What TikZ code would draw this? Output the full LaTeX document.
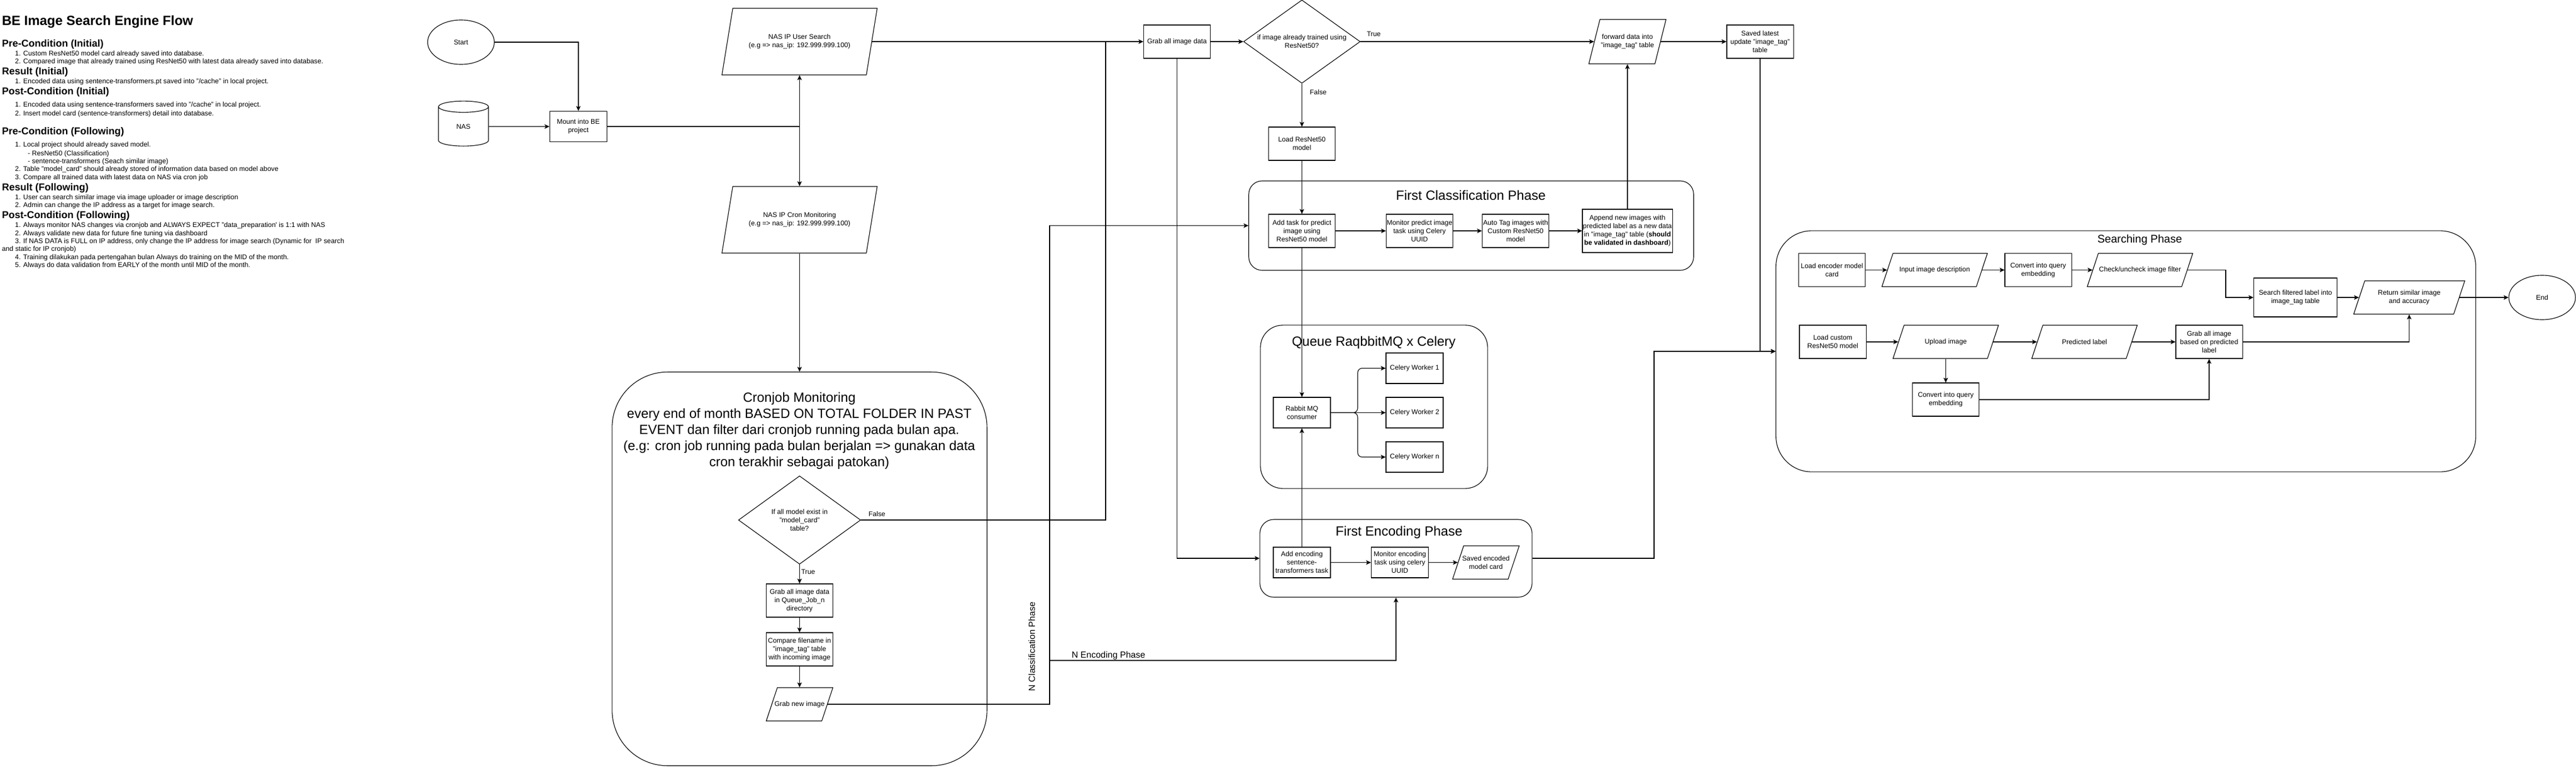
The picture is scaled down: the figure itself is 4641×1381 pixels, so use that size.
\documentclass[tikz,border=0pt]{standalone}
\usepackage{fontspec}
\setmainfont{Liberation Sans}
\newfontfamily\plainquote{Liberation Sans}
\usetikzlibrary{shapes.geometric,arrows.meta}

\tikzset{
  procbox/.style={draw, rectangle, minimum width=1.2cm, minimum height=0.6cm},
  widebox/.style={draw, rectangle, minimum width=1.03cm, minimum height=0.55cm},
  iobox/.style={draw, rectangle, xslant=0.333, transform shape, minimum width=1.7cm, minimum height=0.6cm},
  midio/.style={draw, rectangle, xslant=0.25, transform shape, minimum width=1.19cm, minimum height=0.8cm},
  tallio/.style={draw, rectangle, xslant=0.1625, transform shape, minimum width=2.6cm, minimum height=1.2cm},
  decision/.style={draw, diamond, aspect=1.4},
  phasebox/.style={draw, rectangle},
  phasetitle/.style={font=\fontsize{6.83}{8.25}\selectfont, align=center},
  sidelabel/.style={font=\fontsize{4.55}{5.5}\selectfont},
  headtext/.style={anchor=base west, font=\fontsize{5.12}{6}\selectfont\bfseries},
  itemtext/.style={anchor=base west}
}

\begin{document}
\begin{tikzpicture}[x=0.01cm, y=-0.01cm, line width=0.32pt,
  >={Stealth[length=2.5pt, width=2.3pt, inset=0.6pt]},
  every node/.style={font=\fontsize{3.5}{4.27}\selectfont, inner sep=0pt, align=center}]
  \useasboundingbox (0,0) rectangle (4641,1381);

  \node (TitleText) at (3,45.5) [anchor=base west, font=\fontsize{6.83}{8}\selectfont\bfseries] {BE Image Search Engine Flow};
  \node (PreInit) at (3,84.5) [headtext] {Pre-Condition (Initial)};
  \node (PreInitOne) at (26.6,100.3) [itemtext] {1. Custom ResNet50 model card already saved into database.};
  \node (PreInitTwo) at (26.6,114.3) [itemtext] {2. Compared image that already trained using ResNet50 with latest data already saved into database.};
  \node (ResInit) at (3,134.5) [headtext] {Result (Initial)};
  \node (ResInitOne) at (26.6,150.3) [itemtext] {1. Encoded data using sentence-transformers.pt saved into "/cache" in local project.};
  \node (PostInit) at (3,170.5) [headtext] {Post-Condition (Initial)};
  \node (PostInitOne) at (26.6,192.3) [itemtext] {1. Encoded data using sentence-transformers saved into "/cache" in local project.};
  \node (PostInitTwo) at (26.6,208.3) [itemtext] {2. Insert model card (sentence-transformers) detail into database.};
  \node (PreFoll) at (3,242.5) [headtext] {Pre-Condition (Following)};
  \node (PreFollOne) at (26.6,264.3) [itemtext] {1. Local project should already saved model.};
  \node (PreFollSubA) at (49.6,280) [itemtext] {- ResNet50 (Classification)};
  \node (PreFollSubB) at (49.6,294.3) [itemtext] {- sentence-transformers (Seach similar image)};
  \node (PreFollTwo) at (26.6,308) [itemtext] {2. Table "model\_card" should already stored of information data based on model above};
  \node (PreFollThree) at (26.6,323.3) [itemtext] {3. Compare all trained data with latest data on NAS via cron job};
  \node (ResFoll) at (3,343.5) [headtext] {Result (Following)};
  \node (ResFollOne) at (26.6,359.3) [itemtext] {1. User can search similar image via image uploader or image description};
  \node (ResFollTwo) at (26.6,373.3) [itemtext] {2. Admin can change the IP address as a target for image search.};
  \node (PostFoll) at (3,393.2) [headtext] {Post-Condition (Following)};
  \node (PostFollOne) at (26.6,409.3) [itemtext] {1. Always monitor NAS changes via cronjob and ALWAYS EXPECT "data\_preparation{\plainquote'} is 1:1 with NAS};
  \node (PostFollTwo) at (26.6,424.3) [itemtext] {2. Always validate new data for future fine tuning via dashboard};
  \node (PostFollThree) at (26.6,438) [itemtext] {3. If NAS DATA is FULL on IP address, only change the IP address for image search (Dynamic for~ IP search};
  \node (PostFollWrap) at (3,452.3) [itemtext] {and static for IP cronjob)};
  \node (PostFollFour) at (26.6,467) [itemtext] {4. Training dilakukan pada pertengahan bulan Always do training on the MID of the month.};
  \node (PostFollFive) at (26.6,481.3) [itemtext] {5. Always do data validation from EARLY of the month until MID of the month.};

  \node (Start) at (830.5,76) [draw, ellipse, minimum width=1.2cm, minimum height=0.8cm] {Start};
  \node (Nas) at (835,228) [draw, cylinder, shape border rotate=90, aspect=0.8, minimum width=0.9cm, minimum height=0.81cm] {NAS};
  \node (Mount) at (1042,228) [widebox] {Mount into BE\\project};
  \coordinate (MountJoint) at (1440.5,228);
  \node (UserSearch) at (1440.5,75) [tallio] {};
  \node (UserSearchText) at (UserSearch.center) {NAS IP User Search\\(e.g => nas\_ip: 192.999.999.100)};
  \node (CronIp) at (1440.5,396) [tallio] {};
  \node (CronIpText) at (CronIp.center) {NAS IP Cron Monitoring\\(e.g => nas\_ip: 192.999.999.100)};

  \node (CronBox) at (1440.5,1025) [phasebox, minimum width=6.75cm, minimum height=7.09cm, rounded corners=1cm] {};
  \node (CronTitle) at (1440,776) [phasetitle] {Cronjob Monitoring\\every end of month BASED ON TOTAL FOLDER IN PAST\\EVENT dan filter dari cronjob running pada bulan apa.\\(e.g: cron job running pada bulan berjalan => gunakan data\\cron terakhir sebagai patokan)};
  \node (CronCheck) at (1440.5,937) [decision, minimum width=2.2cm, minimum height=1.59cm] {If all model exist in\\"model\_card"\\table?};
  \node (GrabQueue) at (1440.5,1082) [procbox] {Grab all image data\\in Queue\_Job\_n\\directory};
  \node (CompareName) at (1440.5,1170) [procbox] {Compare filename in\\"image\_tag" table\\with incoming image};
  \node (GrabNew) at (1440.5,1269) [iobox, minimum width=1cm] {};
  \node (GrabNewText) at (GrabNew.center) {Grab new image};
  \node (FalseCron) at (1580,926) {False};
  \node (TrueCron) at (1456,1030) {True};

  \node (ClassLabel) at (1859,1165) [sidelabel, rotate=90] {N Classification Phase};
  \node (EncodeLabel) at (1997,1181) [sidelabel] {N Encoding Phase};
  \coordinate (FalseJoint) at (1992,75);
  \coordinate (ClassCorner) at (1891,406.5);
  \coordinate (EncodeJoint) at (1891,1190);

  \node (GrabAll) at (2120.5,75) [procbox] {Grab all image data};
  \node (TrainedCheck) at (2345.5,75) [decision, minimum width=2.1cm, minimum height=1.5cm] {if image already trained using\\ResNet50?};
  \node (TrueTrain) at (2475,61) {True};
  \node (FalseTrain) at (2375,166) {False};
  \node (ForwardData) at (2932,75) [midio] {};
  \node (ForwardText) at (ForwardData.center) {forward data into\\"image\_tag" table};
  \node (SavedTag) at (3171,75) [procbox] {Saved latest\\update "image\_tag"\\table};
  \node (LoadResnet) at (2345.5,259) [procbox] {Load ResNet50\\model};

  \node (ClassBox) at (2650.5,406.5) [phasebox, minimum width=8.01cm, minimum height=1.61cm, rounded corners=0.24cm] {};
  \node (ClassTitle) at (2650,352) [phasetitle] {First Classification Phase};
  \node (AddTask) at (2345.5,416) [procbox] {Add task for predict\\image using\\ResNet50 model};
  \node (MonitorPredict) at (2557.5,416) [procbox] {Monitor predict image\\task using Celery\\UUID};
  \node (AutoTag) at (2730.5,416) [procbox] {Auto Tag images with\\Custom ResNet50\\model};
  \node (AppendNew) at (2932,416) [procbox, minimum width=1.62cm, minimum height=0.78cm] {Append new images with\\predicted label as a new data\\in "image\_tag" table (\textbf{should}\\\textbf{be validated in dashboard})};

  \node (QueueBox) at (2475.5,733) [phasebox, minimum width=4.09cm, minimum height=2.94cm, rounded corners=0.4cm] {};
  \node (QueueTitle) at (2475,617) [phasetitle] {Queue RaqbbitMQ x Celery};
  \node (Rabbit) at (2345.5,743.5) [widebox] {Rabbit MQ\\consumer};
  \node (WorkerOne) at (2548.5,663.5) [widebox] {Celery Worker 1};
  \node (WorkerTwo) at (2548.5,743.5) [widebox] {Celery Worker 2};
  \node (WorkerN) at (2548.5,823.5) [widebox] {Celery Worker n};
  \coordinate (RabbitJoint) at (2446,743.5);

  \node (EncodeBox) at (2515,1006) [phasebox, minimum width=4.9cm, minimum height=1.4cm, rounded corners=0.25cm] {};
  \node (EncodeTitle) at (2520.5,959) [phasetitle] {First Encoding Phase};
  \node (AddEncode) at (2345.5,1013.5) [widebox] {Add encoding\\sentence-\\transformers task};
  \node (MonitorEncode) at (2522,1013.5) [widebox] {Monitor encoding\\task using celery\\UUID};
  \node (SavedEncode) at (2677,1013.5) [iobox, minimum width=1cm] {};
  \node (SavedEncodeText) at (SavedEncode.center) {Saved encoded\\model card};
  \coordinate (EncodeTurn) at (2980,1006);

  \node (SearchBox) at (3830,633) [phasebox, minimum width=12.6cm, minimum height=4.34cm, rounded corners=0.64cm] {};
  \node (SearchTitle) at (3855,432) [font=\fontsize{5.69}{7}\selectfont] {Searching Phase};
  \node (LoadEncoder) at (3300.5,486.5) [procbox] {Load encoder model\\card};
  \node (InputDesc) at (3485.5,486.5) [iobox] {};
  \node (InputDescText) at (InputDesc.center) {Input image description};
  \node (ConvertQuery) at (3672,486.5) [procbox] {Convert into query\\embedding};
  \node (CheckFilter) at (3855.5,486.5) [iobox] {};
  \node (CheckFilterText) at (CheckFilter.center) {Check/uncheck image filter};
  \coordinate (FilterTurn) at (4010,511);
  \node (SearchTag) at (4135.5,536) [procbox, minimum width=1.5cm, minimum height=0.7cm] {Search filtered label into\\image\_tag table};
  \node (ReturnSimilar) at (4340.5,536) [iobox, minimum width=1.8cm] {};
  \node (ReturnText) at (ReturnSimilar.center) {Return similar image\\and accuracy};
  \coordinate (ReturnFoot) at (ReturnSimilar.center |- ReturnSimilar.south);
  \node (EndNode) at (4580,536) [draw, ellipse, minimum width=1.2cm, minimum height=0.8cm] {End};
  \node (LoadCustom) at (3302,616) [procbox] {Load custom\\ResNet50 model};
  \node (UploadImage) at (3505.5,616) [iobox] {};
  \node (UploadText) at (UploadImage.center) {Upload image};
  \node (PredictedLabel) at (3755.5,616) [iobox] {};
  \node (PredictedText) at (PredictedLabel.center) {Predicted label};
  \node (GrabPredicted) at (3980,616) [procbox] {Grab all image\\based on predicted\\label};
  \node (ConvertEmbed) at (3505.5,720) [procbox] {Convert into query\\embedding};

  \draw[->] (Start) -| (Mount);
  \draw[->] (Nas.east) -- (Mount.west);
  \draw (Mount.east) -- (MountJoint);
  \draw[->] (MountJoint) -- (MountJoint |- UserSearch.south);
  \draw[->] (MountJoint) -- (MountJoint |- CronIp.north);
  \draw[->] (CronBox.north |- CronIp.south) -- (CronBox.north);
  \draw[->] (UserSearch.east) -- (GrabAll.west);
  \draw (CronCheck.east) -| (FalseJoint);
  \draw[->] (CronCheck.south) -- (GrabQueue.north);
  \draw[->] (GrabQueue) -- (CompareName);
  \draw[->] (CompareName) -- (CompareName |- GrabNew.north);
  \draw[->] (GrabNew.east) -| (ClassCorner) -- (ClassBox.west);
  \draw[->] (EncodeJoint) -| (EncodeBox.south);

  \draw[->] (GrabAll) -- (TrainedCheck.west);
  \draw[->] (TrainedCheck.east) -- (ForwardData.west);
  \draw[->] (ForwardData.east) -- (SavedTag.west);
  \draw[->] (SavedTag.south) |- (SearchBox.west);
  \draw[->] (GrabAll.south) |- (EncodeBox.west);
  \draw[->] (TrainedCheck.south) -- (LoadResnet.north);
  \draw[->] (LoadResnet) -- (AddTask);
  \draw[->] (AddTask) -- (MonitorPredict);
  \draw[->] (MonitorPredict) -- (AutoTag);
  \draw[->] (AutoTag) -- (AppendNew);
  \draw[->] (AppendNew.north) -- (AppendNew.north |- ForwardData.south);
  \draw[->] (AddTask.south) -- (Rabbit.north);
  \draw[->] (AddEncode.north) -- (Rabbit.south);
  \draw[->] (Rabbit) -- (WorkerTwo);
  \draw[->, rounded corners=0.08cm] (Rabbit.east) -- (RabbitJoint) |- (WorkerOne.west);
  \draw[->, rounded corners=0.08cm] (Rabbit.east) -- (RabbitJoint) |- (WorkerN.west);

  \draw[->] (AddEncode) -- (MonitorEncode);
  \draw[->] (MonitorEncode) -- (SavedEncode.west);
  \draw[->] (EncodeBox.east) -- (EncodeTurn) |- (SearchBox.west);

  \draw[->] (LoadEncoder) -- (InputDesc.west);
  \draw[->] (InputDesc.east) -- (ConvertQuery);
  \draw[->] (ConvertQuery) -- (CheckFilter.west);
  \draw[->] (CheckFilter.east) -| (FilterTurn) |- (SearchTag.west);
  \draw[->] (SearchTag) -- (ReturnSimilar.west);
  \draw[->] (ReturnSimilar.east) -- (EndNode.west);
  \draw[->] (LoadCustom) -- (UploadImage.west);
  \draw[->] (UploadImage.east) -- (PredictedLabel.west);
  \draw[->] (PredictedLabel.east) -- (GrabPredicted.west);
  \draw[->] (ConvertEmbed.north |- UploadImage.south) -- (ConvertEmbed.north);
  \draw[->] (ConvertEmbed.east) -| (GrabPredicted.south);
  \draw[->] (GrabPredicted.east) -| (ReturnFoot);
\end{tikzpicture}
\end{document}
